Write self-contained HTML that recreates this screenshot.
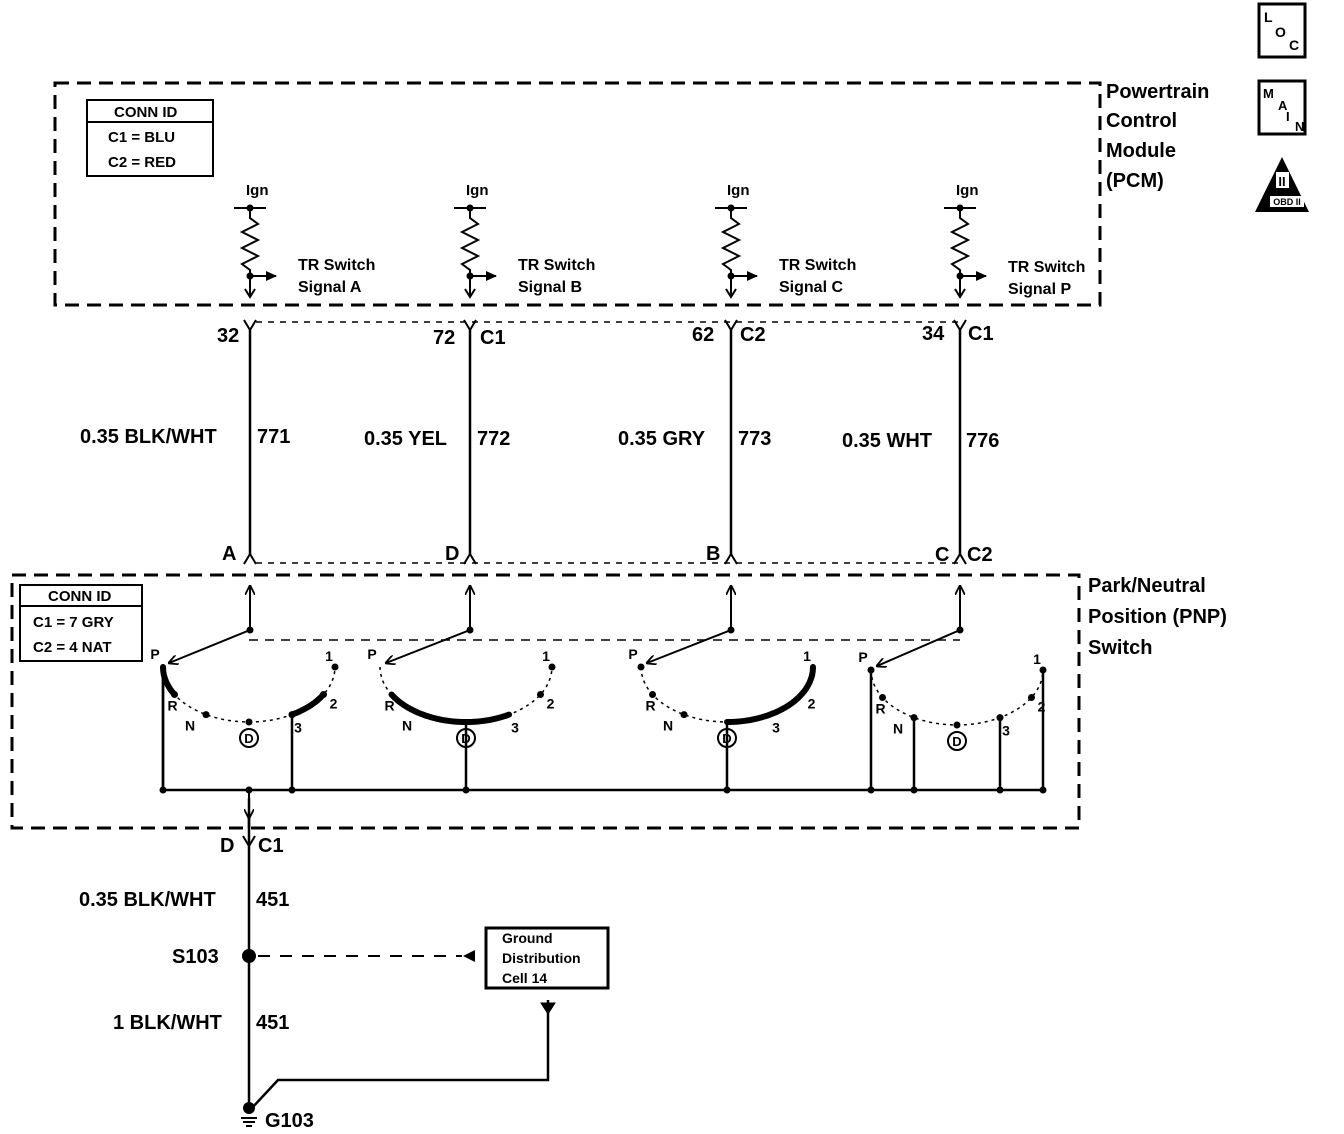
<!DOCTYPE html>
<html><head><meta charset="utf-8"><style>
html,body{margin:0;padding:0;background:#fff;}
svg{display:block;}
text{font-family:"Liberation Sans",sans-serif;font-weight:bold;fill:#000;}
</style></head><body>
<svg id="s" width="1344" height="1134" viewBox="0 0 1344 1134" xmlns="http://www.w3.org/2000/svg">
<defs>
<marker id="ah" markerWidth="10" markerHeight="10" refX="9" refY="5" orient="auto" markerUnits="userSpaceOnUse"><path d="M0,0 L10,5 L0,10" fill="none" stroke="#000" stroke-width="1.8"/></marker>
<marker id="tri" markerWidth="12" markerHeight="12" refX="10" refY="6" orient="auto" markerUnits="userSpaceOnUse"><path d="M0,1 L11,6 L0,11 Z" fill="#000"/></marker>
</defs>
<g stroke="#000" fill="none">
<rect x="55" y="83" width="1045" height="222" stroke-width="3" stroke-dasharray="14,8"/>
<rect x="12" y="575" width="1067" height="253" stroke-width="3" stroke-dasharray="14,8"/>
<rect x="87" y="100" width="126" height="76" stroke-width="2"/>
<line x1="87" y1="122" x2="213" y2="122" stroke-width="2"/>
<rect x="20" y="585" width="122" height="76" stroke-width="2"/>
<line x1="20" y1="606" x2="142" y2="606" stroke-width="2"/>
<line x1="256" y1="322" x2="960" y2="322" stroke-width="1.5" stroke-dasharray="6,6"/>
<line x1="256" y1="563" x2="960" y2="563" stroke-width="1.5" stroke-dasharray="6,6"/>
<line x1="249" y1="640" x2="960" y2="640" stroke-width="1.5" stroke-dasharray="9,7"/>
<line x1="249" y1="812" x2="249" y2="1105" stroke-width="2.5"/>
<line x1="249" y1="828" x2="249" y2="798" stroke-width="2.5"/>
<line x1="258" y1="956" x2="462" y2="956" stroke-width="2" stroke-dasharray="12,10"/>
<rect x="486" y="928" width="122" height="60" stroke-width="3"/>
<polyline points="548,1000 548,1080 278,1080 252,1108" stroke-width="2.5"/>
<path d="M541,1003 L555,1003 L548,1014 Z" fill="#000"/>
<line x1="241" y1="1118" x2="257" y2="1118" stroke-width="2"/>
<line x1="243" y1="1122" x2="255" y2="1122" stroke-width="2"/>
<line x1="246" y1="1126" x2="252" y2="1126" stroke-width="2"/>
<rect x="1259" y="4" width="46" height="53" stroke-width="3"/>
<rect x="1259" y="81" width="46" height="53" stroke-width="3"/>
</g>
<path d="M463,956 L475,950 L475,962 Z" fill="#000"/>
<path d="M1282,157 L1309,212 L1255,212 Z" fill="#000"/>
<rect x="1270" y="196" width="34" height="11" fill="#fff"/>
<rect x="1276" y="172" width="13" height="16" fill="#fff"/>
<text x="1287" y="205" font-size="9" text-anchor="middle">OBD II</text>
<text x="1282" y="186" font-size="13" text-anchor="middle">II</text>
<text x="1264" y="22" font-size="14" font-weight="normal">L</text>
<text x="1275" y="37" font-size="14">O</text>
<text x="1289" y="50" font-size="14">C</text>
<text x="1263" y="98" font-size="13">M</text>
<text x="1278" y="110" font-size="13">A</text>
<text x="1286" y="121" font-size="13">I</text>
<text x="1295" y="131" font-size="13">N</text>
<g id="g"></g>
<g font-size="20">
<text x="1106" y="98">Powertrain</text><text x="1106" y="127">Control</text><text x="1106" y="157">Module</text><text x="1106" y="187">(PCM)</text>
<text x="1088" y="592">Park/Neutral</text><text x="1088" y="623">Position (PNP)</text><text x="1088" y="654">Switch</text>
<text x="217" y="342">32</text><text x="433" y="344">72</text><text x="480" y="344">C1</text>
<text x="692" y="341">62</text><text x="740" y="341">C2</text>
<text x="922" y="340">34</text><text x="968" y="340">C1</text>
<text x="80" y="443">0.35 BLK/WHT</text><text x="257" y="443">771</text>
<text x="364" y="445">0.35 YEL</text><text x="477" y="445">772</text>
<text x="618" y="445">0.35 GRY</text><text x="738" y="445">773</text>
<text x="842" y="447">0.35 WHT</text><text x="966" y="447">776</text>
<text x="222" y="560">A</text><text x="445" y="560">D</text><text x="706" y="560">B</text>
<text x="935" y="561">C</text><text x="967" y="561">C2</text>
<text x="220" y="852">D</text><text x="258" y="852">C1</text>
<text x="79" y="906">0.35 BLK/WHT</text><text x="256" y="906">451</text>
<text x="172" y="963">S103</text>
<text x="113" y="1029">1 BLK/WHT</text><text x="256" y="1029">451</text>
<text x="265" y="1127">G103</text>
</g>
<g font-size="15">
<text x="114" y="117">CONN ID</text><text x="108" y="142">C1 = BLU</text><text x="108" y="167">C2 = RED</text>
<text x="48" y="601">CONN ID</text><text x="33" y="627">C1 = 7 GRY</text><text x="33" y="652">C2 = 4 NAT</text>
<text x="502" y="943" font-size="14">Ground</text><text x="502" y="963" font-size="14">Distribution</text><text x="502" y="983" font-size="14">Cell 14</text>
</g>
</svg>
<script>
var g=document.getElementById('g'),NS='http://www.w3.org/2000/svg';
function el(t,a,txt){var e=document.createElementNS(NS,t);for(var k in a)e.setAttribute(k,a[k]);if(txt)e.textContent=txt;g.appendChild(e);return e;}
function ln(x1,y1,x2,y2,w,extra){var a={x1:x1,y1:y1,x2:x2,y2:y2,stroke:'#000','stroke-width':w||2};for(var k in extra)a[k]=extra[k];return el('line',a);}
function dot(x,y,r){el('circle',{cx:x,cy:y,r:r||3.5,fill:'#000'});}
function tx(x,y,s,fs){el('text',{x:x,y:y,'font-size':fs||15},s);}
var W=[[250,'A','Signal A'],[470,'B','Signal B'],[731,'C','Signal C'],[960,'P','Signal P']];
W.forEach(function(w,i){var x=w[0],dy=i==3?2:0;
 tx(x-4,195,'Ign',15);
 ln(x-16,208,x+16,208,2);dot(x,208);
 var p='M'+x+',208 L'+x+',218';var z=[[8,224],[-8,232],[8,240],[-8,248],[8,256],[-8,264]];
 z.forEach(function(q){p+=' L'+(x+q[0])+','+q[1];});p+=' L'+x+',270 L'+x+',296';
 el('path',{d:p,fill:'none',stroke:'#000','stroke-width':2});
 dot(x,276);
 ln(x,276,x+26,276,2,{'marker-end':'url(#tri)'});
 el('path',{d:'M'+(x-5)+',289 L'+x+',297 L'+(x+5)+',289',fill:'none',stroke:'#000','stroke-width':2});
 tx(x+48,270+dy,'TR Switch',16);tx(x+48,292+dy,w[2],16);
 el('path',{d:'M'+(x-6)+',320 L'+x+',330 L'+(x+6)+',320',fill:'none',stroke:'#000','stroke-width':2});
 ln(x,330,x,556,2.5);
 el('path',{d:'M'+(x-6)+',564 L'+x+',554 L'+(x+6)+',564',fill:'none',stroke:'#000','stroke-width':2});
 ln(x,630,x,586,2,{'marker-end':'url(#ah)'});
});
var S=[{cx:249,cy:667,w:250,th:[[180,150],[60,30]],v:[180,60],dots:[150,120,90,60,30,0]},
{cx:466,cy:667,w:470,th:[[150,60]],v:[90],dots:[0,30]},
{cx:727,cy:667,w:731,th:[[90,0]],v:[90],dots:[180,150,120]},
{cx:957,cy:670,w:960,th:[],v:[180,120,60,0],dots:[180,150,120,90,60,30,0]}];
var rx=86,ry=55,lab=['P','R','N','D','3','2','1'],angs=[180,150,120,90,60,30,0];
function pt(s,a){var r=a*Math.PI/180;return [s.cx+rx*Math.cos(r),s.cy+ry*Math.sin(r)];}
S.forEach(function(s){
 var d='';for(var a=180;a>=0;a-=3){var p=pt(s,a);d+=(d?' L':'M')+p[0].toFixed(1)+','+p[1].toFixed(1);}
 el('path',{d:d,fill:'none',stroke:'#000','stroke-width':1.5,'stroke-dasharray':'3,4'});
 s.th.forEach(function(t){var d='';for(var a=t[0];a>=t[1];a-=2){var p=pt(s,a);d+=(d?' L':'M')+p[0].toFixed(1)+','+p[1].toFixed(1);}
  el('path',{d:d,fill:'none',stroke:'#000','stroke-width':6,'stroke-linecap':'round'});});
 s.dots.forEach(function(a){var p=pt(s,a);dot(p[0],p[1],3.5);});
 s.v.forEach(function(a){var p=pt(s,a);ln(p[0],p[1],p[0],790,2.5);dot(p[0],790,3.5);});
 var P=pt(s,180);
 ln(s.w,630,P[0]+6,P[1]-4,2,{'marker-end':'url(#ah)'});dot(s.w,630,3.5);
 angs.forEach(function(a,i){var p=pt(s,a),dx=0,dy=0;
  if(i==0){dx=-8;dy=-8;}else if(i==1){dx=-2;dy=16;}else if(i==2){dx=-16;dy=16;}else if(i==3){dx=0;dy=22;}
  else if(i==4){dx=6;dy=18;}else if(i==5){dx=10;dy=14;}else{dx=-6;dy=-6;}
  if(i==3){el('circle',{cx:p[0],cy:p[1]+16,r:9,fill:'none',stroke:'#000','stroke-width':2});el('text',{x:p[0],y:p[1]+21,'font-size':13,'text-anchor':'middle'},'D');}
  else el('text',{x:p[0]+dx,y:p[1]+dy,'font-size':14,'text-anchor':'middle'},lab[i]);
 });
});
ln(163,790,1043,790,2.5);
ln(163,667,163,790,2.5);
dot(249,790,3.5);
ln(249,790,249,818,2,{'marker-end':'url(#ah)'});
el('path',{d:'M243,836 L249,846 L255,836',fill:'none',stroke:'#000','stroke-width':2});
dot(249,956,7);dot(249,1108,6);
</script>
</body></html>
